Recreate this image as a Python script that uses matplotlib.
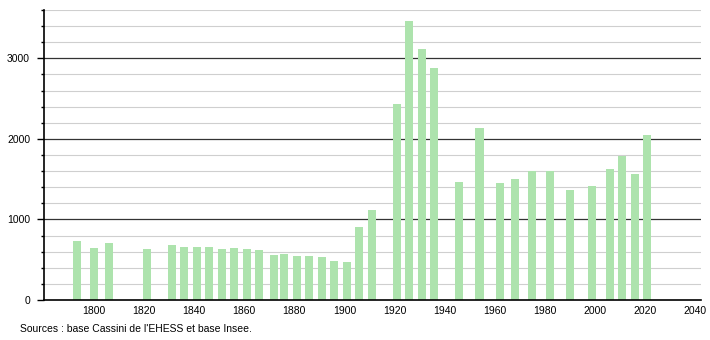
import numpy as np
import matplotlib.pyplot as plt
from matplotlib.ticker import MultipleLocator

plt.rcParams['font.family'] = ['Liberation Sans', 'DejaVu Sans']

years = [1793, 1800, 1806, 1821, 1831, 1836, 1841, 1846, 1851, 1856, 1861, 1866,
         1872, 1876, 1881, 1886, 1891, 1896, 1901, 1906, 1911, 1921, 1926, 1931,
         1936, 1946, 1954, 1962, 1968, 1975, 1982, 1990, 1999, 2006, 2011, 2016, 2021]
population = [735, 650, 712, 633, 683, 654, 658, 654, 633, 650, 633, 621,
              558, 575, 550, 550, 533, 488, 471, 908, 1121, 2429, 3467, 3117,
              2879, 1471, 2129, 1454, 1496, 1600, 1596, 1371, 1421, 1621, 1788, 1558, 2054]
x_ticks = list(range(1800, 2041, 20))
source = "Sources : base Cassini de l'EHESS et base Insee."

fig = plt.figure(figsize=(7.1, 3.4), dpi=100)
ax = fig.add_axes([44/710, 40/340, 657/710, 290/340])

# grid lines
for v in range(200, 3601, 200):
    if v % 1000 == 0:
        ax.axhline(v, color='#333333', lw=0.9, zorder=1)
    else:
        ax.axhline(v, color='#cfcfcf', lw=0.8, zorder=1)

ax.bar(years, population, width=3.2, color='#ade3ad', zorder=2)

ax.set_xlim(1780, 2042.5)
ax.set_ylim(0, 3600)
ax.set_xticks(x_ticks)
ax.set_yticks([0, 1000, 2000, 3000])
ax.yaxis.set_minor_locator(MultipleLocator(200))
ax.tick_params(axis='x', length=0, labelsize=7.5, pad=4)
ax.tick_params(axis='y', which='major', length=5, width=1, labelsize=7.5, pad=5)
ax.tick_params(axis='y', which='minor', length=2.5, width=1)

for s in ['top', 'right']:
    ax.spines[s].set_visible(False)
for s in ['left', 'bottom']:
    ax.spines[s].set_linewidth(1.2)
    ax.spines[s].set_color('black')

fig.text(20/710, 1 - 329/340, source, fontsize=7.5, va='center', ha='left')

fig.savefig('out.png', dpi=100)
